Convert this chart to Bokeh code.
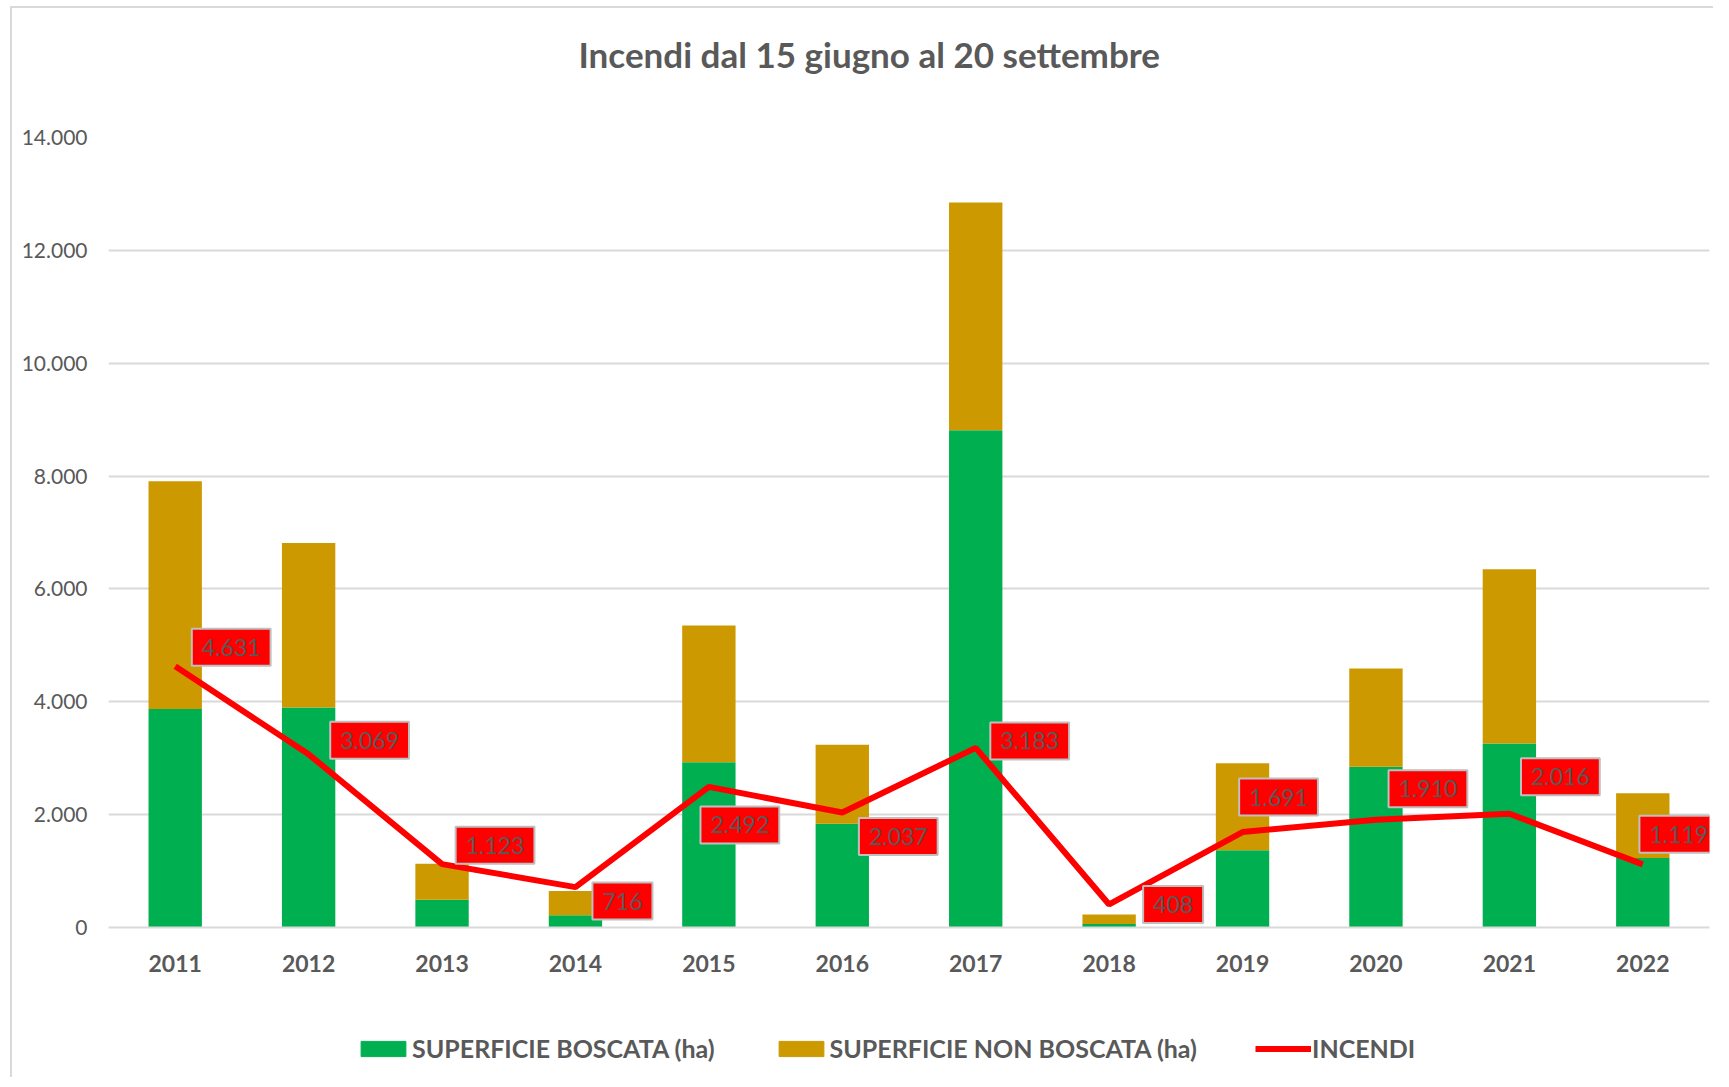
from bokeh.plotting import figure
from bokeh.layouts import column
from bokeh.models import ColumnDataSource, Legend, LegendItem, CustomJSTickFormatter, FixedTicker
from bokeh.core.properties import value
from bokeh.embed import file_html
from bokeh.resources import INLINE

years = ["2011", "2012", "2013", "2014", "2015", "2016", "2017", "2018", "2019", "2020", "2021", "2022"]
boscata = [3870, 3900, 490, 215, 2930, 1840, 8810, 60, 1370, 2850, 3260, 1230]
non_boscata = [4040, 2915, 640, 430, 2420, 1400, 4040, 170, 1540, 1740, 3090, 1150]
incendi = [4631, 3069, 1123, 716, 2492, 2037, 3183, 408, 1691, 1910, 2016, 1119]
y_ticks = [0, 2000, 4000, 6000, 8000, 10000, 12000, 14000]

# callout offsets (screen px, right / up) relative to each point
lab_dx = [56, 61, 53, 47, 31, 56, 54, 64, 36, 52, 51, 36]
lab_dy = [19, 14, 19, -14, -38, -24, 7, 0, 35, 31, 37, 30]

FONT = "Lato"
GREY = "#595959"
GREEN = "#00b050"
GOLD = "#cc9900"
RED = "#ff0000"

labels = [f"{v:,}".replace(",", ".") for v in incendi]
source = ColumnDataSource(dict(years=years, boscata=boscata, non_boscata=non_boscata,
                               incendi=incendi, lab=labels, dx=lab_dx, dy=[-d for d in lab_dy]))

p = figure(x_range=years, y_range=(0, 14000), width=1701, height=979,
           output_backend="svg", toolbar_location=None,
           min_border_left=96, min_border_right=4, min_border_top=129, min_border_bottom=60)

p.title.text = "Incendi  dal 15 giugno al 20 settembre"
p.title.align = "left"
p.title.offset = 470
p.title.text_font = FONT
p.title.text_font_size = "35px"
p.title.text_font_style = "bold"
p.title.text_color = GREY
p.title.standoff = 0
p.title.padding = dict(left=0, right=0, top=0, bottom=63)

bars = p.vbar_stack(["boscata", "non_boscata"], x="years", width=0.4, source=source,
                    color=[GREEN, GOLD], line_color=None)
line = p.line(x="years", y="incendi", source=source, line_color=RED, line_width=6)

p.text(x="years", y="incendi", text="lab", x_offset="dx", y_offset="dy", source=source,
       anchor="center", text_align="center", text_baseline="middle",
       text_font=value(FONT), text_font_size="23px", text_color=GREY,
       background_fill_color=RED, border_line_color="#bfbfbf", border_line_width=2,
       padding=10)

p.outline_line_color = None
p.xgrid.grid_line_color = None
p.ygrid.grid_line_color = "#d9d9d9"
p.ygrid.grid_line_width = 2
p.yaxis.ticker = FixedTicker(ticks=y_ticks)
p.yaxis.formatter = CustomJSTickFormatter(code="return tick.toFixed(0).replace(/\\B(?=(\\d{3})+(?!\\d))/g, '.');")
p.yaxis.axis_line_color = None
p.yaxis.major_tick_line_color = None
p.yaxis.minor_tick_line_color = None
p.yaxis.major_label_standoff = 15
p.yaxis.major_label_text_font = FONT
p.yaxis.major_label_text_font_size = "21px"
p.yaxis.major_label_text_color = GREY

p.xaxis.axis_line_color = "#d9d9d9"
p.xaxis.axis_line_width = 2
p.xaxis.major_tick_line_color = None
p.xaxis.minor_tick_line_color = None
p.xaxis.major_label_standoff = 21
p.xaxis.major_label_text_font = FONT
p.xaxis.major_label_text_font_size = "23px"
p.xaxis.major_label_text_font_style = "bold"
p.xaxis.major_label_text_color = GREY

# legend-only strip below the chart (proxy glyphs lie outside its visible range)
leg = figure(width=1701, height=90, x_range=(0, 1), y_range=(0, 1),
             output_backend="svg", toolbar_location=None,
             min_border_left=0, min_border_right=0, min_border_top=0, min_border_bottom=0)
leg.axis.visible = False
leg.grid.visible = False
leg.outline_line_color = None
r1 = leg.vbar(x=[-5], top=[0], width=0.1, color=GREEN)
r2 = leg.vbar(x=[-5], top=[0], width=0.1, color=GOLD)
r3 = leg.line(x=[-5, -4], y=[0, 0], line_color=RED, line_width=6)

legend = Legend(items=[
    LegendItem(label="SUPERFICIE BOSCATA (ha)", renderers=[r1]),
    LegendItem(label="SUPERFICIE NON BOSCATA (ha)", renderers=[r2]),
    LegendItem(label="INCENDI", renderers=[r3]),
], orientation="horizontal", location=(247, 14))
legend.label_text_font = FONT
legend.label_text_font_size = "25px"
legend.label_text_font_style = "bold"
legend.label_text_color = GREY
legend.glyph_width = 56
legend.glyph_height = 19
legend.label_standoff = 1
legend.spacing = 58
legend.border_line_color = None
legend.background_fill_alpha = 0
legend.margin = 0
legend.padding = 0
leg.add_layout(legend)

layout = column(p, leg, spacing=0)
layout.margin = (6, 0, 0, 10)
layout.styles = {"border-top": "2px solid #d9d9d9", "border-left": "2px solid #d9d9d9"}

open("out.html", "w").write(file_html(layout, INLINE))
